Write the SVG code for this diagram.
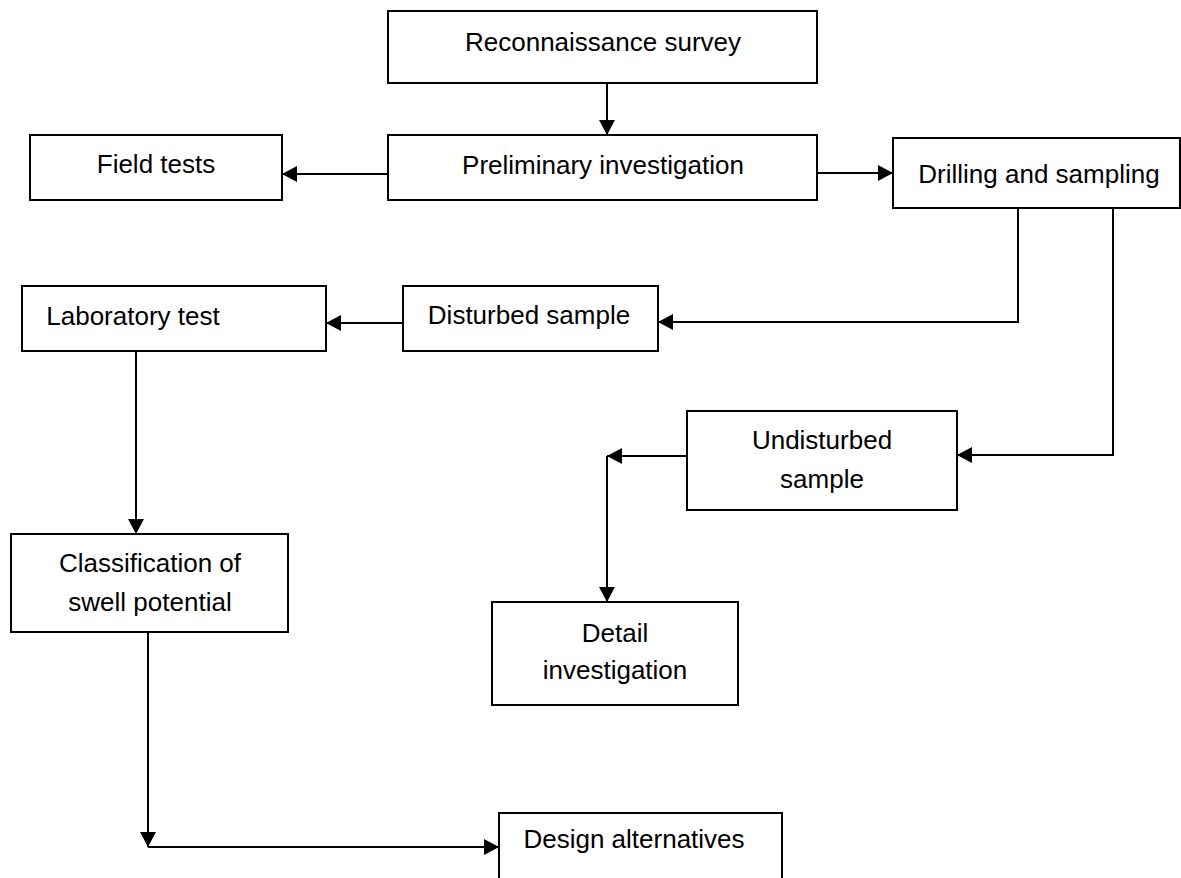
<svg xmlns="http://www.w3.org/2000/svg" width="1181" height="878" viewBox="0 0 1181 878">
<style>
.box{fill:#ffffff;stroke:#000000;stroke-width:2}
.lbl{font-family:"Liberation Sans",Arial,sans-serif;font-size:26px;fill:#000000;text-anchor:middle}
.con{fill:none;stroke:#000000;stroke-width:2}
</style>
<defs>
<marker id="ah" viewBox="0 0 15 16" markerUnits="userSpaceOnUse" markerWidth="15" markerHeight="16" refX="15" refY="8" orient="auto">
<path d="M0,0 L15,8 L0,16 z" fill="#000000"/>
</marker>
</defs>
<rect width="1181" height="878" fill="#ffffff"/>
<g id="recon"><rect class="box" x="388" y="11" width="429" height="72"/><text class="lbl" x="603" y="51">Reconnaissance survey</text></g>
<g id="prelim"><rect class="box" x="388" y="135" width="429" height="65"/><text class="lbl" x="603" y="174">Preliminary investigation</text></g>
<g id="field"><rect class="box" x="30" y="135" width="252" height="65"/><text class="lbl" x="156" y="173">Field tests</text></g>
<g id="drilling"><rect class="box" x="893" y="138" width="287" height="70"/><text class="lbl" x="1039" y="183">Drilling and sampling</text></g>
<g id="lab"><rect class="box" x="22" y="286" width="304" height="65"/><text class="lbl" x="133" y="325">Laboratory test</text></g>
<g id="disturbed"><rect class="box" x="403" y="286" width="255" height="65"/><text class="lbl" x="529" y="324">Disturbed sample</text></g>
<g id="undisturbed"><rect class="box" x="687" y="411" width="270" height="99"/><text class="lbl" x="822" y="449">Undisturbed</text><text class="lbl" x="822" y="488">sample</text></g>
<g id="classification"><rect class="box" x="11" y="534" width="277" height="98"/><text class="lbl" x="150" y="572">Classification of</text><text class="lbl" x="150" y="611">swell potential</text></g>
<g id="detail"><rect class="box" x="492" y="602" width="246" height="103"/><text class="lbl" x="615" y="642">Detail</text><text class="lbl" x="615" y="679">investigation</text></g>
<g id="design"><rect class="box" x="499" y="813" width="283" height="80"/><text class="lbl" x="634" y="848">Design alternatives</text></g>
<g id="connectors">
<line class="con" x1="607" y1="83" x2="607" y2="135" marker-end="url(#ah)"/>
<line class="con" x1="388" y1="174" x2="282" y2="174" marker-end="url(#ah)"/>
<line class="con" x1="817" y1="173" x2="893" y2="173" marker-end="url(#ah)"/>
<path class="con" d="M1018 208 V322 H658" marker-end="url(#ah)"/>
<path class="con" d="M1113 208 V455 H957" marker-end="url(#ah)"/>
<line class="con" x1="403" y1="323" x2="326" y2="323" marker-end="url(#ah)"/>
<line class="con" x1="687" y1="456" x2="607" y2="456" marker-end="url(#ah)"/>
<line class="con" x1="607" y1="456" x2="607" y2="602" marker-end="url(#ah)"/>
<line class="con" x1="136" y1="351" x2="136" y2="534" marker-end="url(#ah)"/>
<line class="con" x1="148" y1="632" x2="148" y2="847" marker-end="url(#ah)"/>
<line class="con" x1="148" y1="847" x2="499" y2="847" marker-end="url(#ah)"/>
</g>
</svg>
